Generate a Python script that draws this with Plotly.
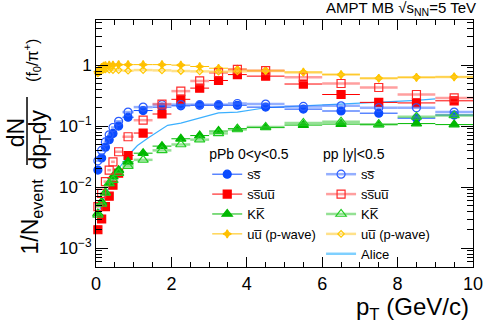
import plotly.graph_objects as go

# pT bin centres and half widths (GeV/c)
pt = [0.05, 0.15, 0.25, 0.35, 0.45, 0.6, 0.85, 1.25, 1.75, 2.25, 2.75, 3.25, 3.75,
      4.5, 5.5, 6.5, 7.5, 8.5, 9.5]
pt_err = [0.05, 0.05, 0.05, 0.05, 0.05, 0.1, 0.15, 0.25, 0.25, 0.25, 0.25, 0.25, 0.25,
          0.5, 0.5, 0.5, 0.5, 0.5, 0.5]
pt_uu = [0.05, 0.1, 0.15, 0.2, 0.25, 0.35, 0.45, 0.6, 0.85, 1.25, 1.75, 2.25, 2.75,
         3.25, 3.75, 4.5, 5.5, 6.5, 7.5, 8.5, 9.5]
pt_uu_err = [0.025, 0.025, 0.025, 0.025, 0.025, 0.05, 0.05, 0.1, 0.15, 0.25, 0.25, 0.25,
             0.25, 0.25, 0.25, 0.5, 0.5, 0.5, 0.5, 0.5, 0.5]

# pPb 0<y<0.5
ppb_ss = [0.019, 0.03, 0.045, 0.06, 0.076, 0.1, 0.14, 0.18, 0.205, 0.215, 0.22, 0.22,
          0.22, 0.205, 0.19, 0.177, 0.163, 0.135, 0.152]
ppb_ssuu = [0.002, 0.003, 0.0048, 0.0071, 0.0108, 0.017, 0.033, 0.077, 0.158, 0.275,
            0.42, 0.56, 0.7, 0.66, 0.49, 0.33, 0.245, 0.24, 0.26]
ppb_kk = [0.0037, 0.0057, 0.0082, 0.0115, 0.0148, 0.019, 0.026, 0.036, 0.047, 0.062,
          0.07, 0.083, 0.091, 0.095, 0.104, 0.108, 0.106, 0.11, 0.106]
ppb_uu = [0.78, 0.85, 0.92, 0.96, 0.98, 1.0, 1.0, 1.02, 1.02, 1.02, 1.02, 1.0, 0.95,
          0.89, 0.86, 0.82, 0.77, 0.7, 0.61, 0.63, 0.64]

# pp |y|<0.5
pp_ss = [0.027, 0.04, 0.055, 0.072, 0.095, 0.12, 0.17, 0.205, 0.225, 0.225, 0.225,
         0.225, 0.235, 0.23, 0.21, 0.215, 0.2, 0.2, 0.17]
pp_ssuu = [0.0048, 0.0079, 0.0123, 0.019, 0.026, 0.038, 0.067, 0.125, 0.23, 0.375,
           0.55, 0.75, 0.85, 0.81, 0.63, 0.5, 0.43, 0.33, 0.29]
pp_kk = [0.0035, 0.0053, 0.008, 0.0115, 0.013, 0.017, 0.022, 0.028, 0.04, 0.05, 0.06,
         0.076, 0.088, 0.097, 0.113, 0.118, 0.107, 0.142, 0.15]
pp_uu = [0.73, 0.78, 0.82, 0.84, 0.85, 0.84, 0.83, 0.83, 0.81, 0.83, 0.82, 0.8, 0.79,
         0.78, 0.79, 0.8, 0.76, 0.7, 0.61, 0.63, 0.64]

# ALICE reference curve
alice_pt = [0.05, 0.25, 0.45, 0.65, 0.85, 1.1, 1.4, 1.7, 1.9, 2.25, 2.75, 3.25, 3.75,
            4.5, 5.5, 6.5, 7.5, 8.5, 9.0]
alice = [0.0035, 0.0075, 0.013, 0.022, 0.033, 0.048, 0.065, 0.085, 0.103, 0.112, 0.135,
         0.165, 0.17, 0.2, 0.215, 0.23, 0.245, 0.265, 0.28]

S = "s\u0305"
U = "u\u0305"
K = "K\u0305"
FONT = "Liberation Sans, Arial, sans-serif"

series = [
    # name, x, xerr, y, symbol, size, colour, bar colour, bar width, legend
    ("s" + S, pt, pt_err, ppb_ss, "circle", 8, "#0a4bff", "#0a4bff", 1, "legend"),
    ("s" + S + "u" + U, pt, pt_err, ppb_ssuu, "square", 8, "#ff0000", "#ff0000", 1, "legend"),
    ("K" + K, pt, pt_err, ppb_kk, "triangle-up", 9, "#00b800", "#00b800", 1, "legend"),
    ("u" + U + " (p-wave)", pt_uu, pt_uu_err, ppb_uu, "star-diamond", 6, "#ffc000", "#ffc000", 1, "legend"),
    ("s" + S, pt, pt_err, pp_ss, "circle-open", 8, "#2a5cff", "rgba(60,110,255,0.55)", 2.5, "legend2"),
    ("s" + S + "u" + U, pt, pt_err, pp_ssuu, "square-open", 8, "#ff2a2a", "rgba(255,80,80,0.55)", 2.5, "legend2"),
    ("K" + K, pt, pt_err, pp_kk, "triangle-up-open", 9, "#22cc22", "rgba(60,200,60,0.55)", 2.5, "legend2"),
    ("u" + U + " (p-wave)", pt_uu, pt_uu_err, pp_uu, "diamond-open", 5, "#ffc800", "rgba(255,205,60,0.6)", 2.5, "legend2"),
]

fig = go.Figure()

fig.add_trace(go.Scatter(x=alice_pt, y=alice, mode="lines", line=dict(color="#3cb0ff", width=1.2),
                         showlegend=False, hoverinfo="skip"))

for name, x, xe, y, sym, size, col, bcol, bw, leg in series:
    fig.add_trace(go.Scatter(
        x=x, y=y, mode="markers", cliponaxis=False, showlegend=False,
        marker=dict(symbol=sym, size=size, color=col, line=dict(color=col, width=1.2)),
        error_x=dict(type="data", array=xe, color=bcol, thickness=bw, width=0),
    ))
    # legend-only entry (ROOT style: marker with line through it)
    fig.add_trace(go.Scatter(
        x=[None], y=[None], mode="lines+markers", name=name, legend=leg,
        marker=dict(symbol=sym, size=size, color=col, line=dict(color=col, width=1.2)),
        line=dict(color=bcol, width=bw),
    ))

fig.add_trace(go.Scatter(x=[None], y=[None], mode="lines", name="Alice", legend="legend2",
                         line=dict(color="#7fd0ff", width=2.5)))

fig.update_layout(
    width=483, height=327,
    margin=dict(l=96, r=10, t=20, b=60),
    paper_bgcolor="white", plot_bgcolor="white",
    font=dict(family=FONT, color="black"),
    xaxis=dict(range=[0, 10], dtick=2, automargin=False, showline=True, linecolor="black",
               linewidth=1, mirror="ticks", ticks="inside", ticklen=10, tickcolor="black",
               showgrid=False, zeroline=False, tickfont=dict(size=18), ticklabeloverflow="allow",
               minor=dict(dtick=0.5, ticks="inside", ticklen=5, tickcolor="black")),
    yaxis=dict(type="log", range=[-3.31, 0.74], automargin=False, showline=True,
               linecolor="black", linewidth=1, mirror="ticks", ticks="inside", ticklen=12,
               tickcolor="black", showgrid=False, zeroline=False, tickfont=dict(size=17),
               tickvals=[0.001, 0.01, 0.1, 1],
               ticktext=["10<sup>\u22123</sup>", "10<sup>\u22122</sup>", "10<sup>\u22121</sup>", "1"],
               minor=dict(ticks="inside", ticklen=6, tickcolor="black",
                          tickvals=[m * 10 ** e for e in (-4, -3, -2, -1, 0) for m in range(2, 10)])),
    legend=dict(x=0.295, y=0.51, xanchor="left", yanchor="top", bgcolor="rgba(0,0,0,0)",
                font=dict(size=13), title=dict(text="pPb 0&lt;y&lt;0.5", font=dict(size=14)),
                itemwidth=30, tracegroupgap=0),
    legend2=dict(x=0.597, y=0.51, xanchor="left", yanchor="top", bgcolor="rgba(0,0,0,0)",
                 font=dict(size=13), title=dict(text="pp |y|&lt;0.5", font=dict(size=14)),
                 itemwidth=30, tracegroupgap=0),
)

# axis titles (ROOT-style fraction on the y axis)
fig.add_annotation(text="p<sub>T</sub> (GeV/c)", xref="paper", yref="paper", x=0.995, y=-0.168,
                   xanchor="right", yanchor="middle", showarrow=False, font=dict(size=24))
fig.add_annotation(text="1/N<sub>event</sub>", xref="paper", yref="paper", x=-0.172, y=0.205,
                   xanchor="center", yanchor="middle", textangle=-90, showarrow=False,
                   font=dict(size=23))
fig.add_annotation(text="dN", xref="paper", yref="paper", x=-0.21, y=0.545,
                   xanchor="center", yanchor="middle", textangle=-90, showarrow=False,
                   font=dict(size=23))
fig.add_annotation(text="dp<sub>T</sub>dy", xref="paper", yref="paper", x=-0.149, y=0.515,
                   xanchor="center", yanchor="middle", textangle=-90, showarrow=False,
                   font=dict(size=23))
fig.add_annotation(text="(f<sub>0</sub>/\u03c0<sup>+</sup>)", xref="paper", yref="paper",
                   x=-0.17, y=0.838, xanchor="center", yanchor="middle", textangle=-90,
                   showarrow=False, font=dict(size=16))
fig.add_shape(type="line", xref="paper", yref="paper", x0=-0.183, x1=-0.183, y0=0.413, y1=0.688,
              line=dict(color="black", width=1.5))
fig.add_annotation(text="AMPT MB \u221as<sub>NN</sub>=5 TeV", xref="paper", yref="paper",
                   x=1.013, y=1.0, xanchor="right", yanchor="bottom", showarrow=False,
                   font=dict(size=15))

# the page body has a default margin; drop it so the figure sits at the window corner
fig.write_html("out.html", config={"displayModeBar": False},
               post_script="document.body.style.margin='0px';")
